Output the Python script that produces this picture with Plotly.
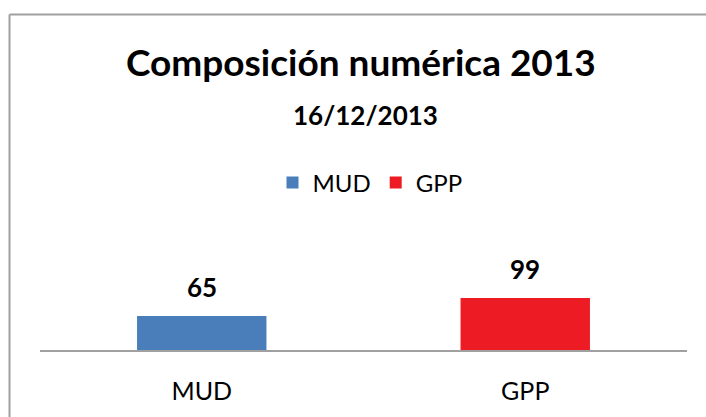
import plotly.graph_objects as go

categories = ["MUD", "GPP"]
values = [65, 99]
colors = ["#4A7EBB", "#ED1C24"]
title_text = "Composición numérica 2013"
subtitle_text = "16/12/2013"

W, H = 706, 417
L, R, T, B = 40, 19, 245, 67
plot_h = H - T - B
plot_w = W - L - R

def py(p):
    return (H - B - p) / plot_h

def px(p):
    return (p - L) / plot_w

fig = go.Figure()
for cat, val, col in zip(categories, values, colors):
    fig.add_trace(go.Bar(
        x=[cat], y=[val], name=cat, width=0.4,
        marker=dict(color=col, line=dict(width=0)),
        hoverinfo="x+y",
    ))

font = "Lato, 'Open Sans', sans-serif"
annotations = [
    dict(text=f"<b>{title_text}</b>", xref="paper", yref="paper", x=px(361), y=py(61),
         xanchor="center", yanchor="middle", showarrow=False,
         font=dict(family=font, size=37, color="black")),
    dict(text=f"<b>{subtitle_text}</b>", xref="paper", yref="paper", x=px(365), y=py(115),
         xanchor="center", yanchor="middle", showarrow=False,
         font=dict(family=font, size=26, color="black")),
]
for cat, val in zip(categories, values):
    annotations.append(dict(text=f"<b>{val}</b>", x=cat, y=val, xref="x", yref="y",
                            yanchor="middle", xanchor="center", yshift=29, showarrow=False,
                            font=dict(family=font, size=26, color="black")))

shapes = [
    dict(type="line", xref="paper", yref="paper", x0=px(9.5), x1=px(706), y0=py(14.5), y1=py(14.5),
         line=dict(color="#A0A0A0", width=2)),
    dict(type="line", xref="paper", yref="paper", x0=px(9.5), x1=px(9.5), y0=py(14.5), y1=py(417),
         line=dict(color="#A0A0A0", width=2)),
]

fig.update_layout(
    width=W, height=H,
    margin=dict(l=L, r=R, t=T, b=B),
    paper_bgcolor="white", plot_bgcolor="white",
    barmode="overlay",
    showlegend=True,
    legend=dict(orientation="h", x=px(370), y=py(183), xanchor="center", yanchor="middle",
                font=dict(family=font, size=24, color="black"), itemwidth=30,
                bgcolor="rgba(0,0,0,0)"),
    xaxis=dict(showline=True, linecolor="#A0A0A0", linewidth=1.5, showgrid=False,
               ticks="", tickfont=dict(family=font, size=25, color="black"),
               ticklabelstandoff=18, zeroline=False, fixedrange=True),
    yaxis=dict(visible=False, range=[0, 200], showgrid=False, zeroline=False, fixedrange=True),
    annotations=annotations,
    shapes=shapes,
    font=dict(family=font),
)

fig.write_html(
    "out.html",
    config={"displayModeBar": False, "staticPlot": True},
    post_script=(
        "document.documentElement.style.overflow='hidden';"
        "document.body.style.margin='0px';document.body.style.overflow='hidden';"
        "document.querySelectorAll('.modebar-container').forEach(function(e){e.remove();});"
    ),
)
